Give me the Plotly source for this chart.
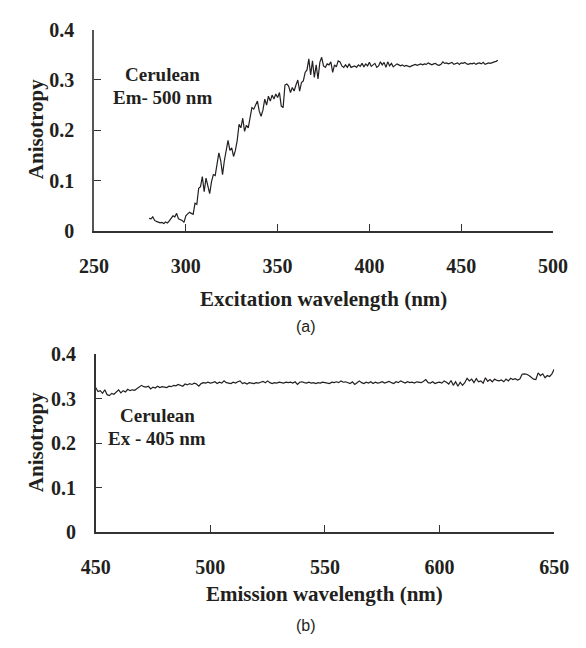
import plotly.graph_objects as go

# ---- data (a): excitation anisotropy, Em 500 nm ----
ex_start = 280
ex_aniso = [
    0.025, 0.024, 0.028, 0.021, 0.019, 0.018, 0.016, 0.017, 0.015, 0.018,
    0.016, 0.020, 0.024, 0.030, 0.028, 0.035, 0.024, 0.022, 0.021, 0.017,
    0.030, 0.034, 0.037, 0.035, 0.033, 0.055, 0.053, 0.085, 0.088, 0.108,
    0.078, 0.105, 0.090, 0.074, 0.098, 0.112, 0.110, 0.135, 0.155, 0.140,
    0.112, 0.140, 0.158, 0.180, 0.160, 0.165, 0.148, 0.160, 0.180, 0.212,
    0.205, 0.224, 0.198, 0.210, 0.205, 0.228, 0.245, 0.242, 0.250, 0.258,
    0.238, 0.228, 0.240, 0.262, 0.250, 0.268, 0.258, 0.270, 0.262, 0.272,
    0.265, 0.275, 0.248, 0.245, 0.290, 0.292, 0.288, 0.275, 0.285, 0.278,
    0.290, 0.300, 0.278, 0.295, 0.298, 0.315, 0.320, 0.342, 0.310, 0.338,
    0.305, 0.330, 0.302, 0.335, 0.345, 0.328, 0.325, 0.332, 0.330, 0.336,
    0.315, 0.330, 0.326, 0.338, 0.336, 0.328, 0.325, 0.330, 0.325, 0.332,
    0.325, 0.326, 0.328, 0.325, 0.330, 0.327, 0.333, 0.326, 0.332, 0.328,
    0.335, 0.327, 0.330, 0.333, 0.325, 0.328, 0.336, 0.330, 0.335, 0.325,
    0.336, 0.328, 0.333, 0.326, 0.329, 0.332, 0.330, 0.328, 0.330, 0.327,
    0.329, 0.327, 0.326, 0.328, 0.330, 0.331, 0.329, 0.330, 0.332, 0.330,
    0.332, 0.331, 0.334, 0.332, 0.330, 0.332, 0.333, 0.330, 0.329, 0.331,
    0.336, 0.333, 0.334, 0.332, 0.333, 0.335, 0.331, 0.332, 0.334, 0.331,
    0.334, 0.333, 0.335, 0.332, 0.331, 0.333, 0.332, 0.334, 0.331, 0.333,
    0.334, 0.332, 0.335, 0.331, 0.332, 0.334, 0.333, 0.335, 0.336, 0.337,
    0.339,
]
ex_wl = [ex_start + i for i in range(len(ex_aniso))]

# ---- data (b): emission anisotropy, Ex 405 nm ----
em_start = 450
em_aniso = [
    0.325, 0.316, 0.318, 0.312, 0.320, 0.309, 0.307, 0.312, 0.310, 0.316,
    0.320, 0.313, 0.318, 0.315, 0.321, 0.318, 0.320, 0.319, 0.322, 0.326, 0.330,
    0.327, 0.326, 0.328, 0.322, 0.326, 0.324, 0.328, 0.325, 0.327, 0.326,
    0.325, 0.328, 0.327, 0.330, 0.329, 0.332, 0.330, 0.328, 0.333, 0.331,
    0.334, 0.332, 0.335, 0.333, 0.328, 0.334, 0.336, 0.335, 0.337, 0.335,
    0.336, 0.338, 0.334, 0.337, 0.335, 0.340, 0.336, 0.335, 0.334, 0.337,
    0.335, 0.338, 0.340, 0.334, 0.336, 0.333, 0.336, 0.335, 0.334, 0.336,
    0.335, 0.337, 0.339, 0.336, 0.340, 0.336, 0.334, 0.336, 0.335, 0.337,
    0.336, 0.335, 0.337, 0.336, 0.337, 0.335, 0.338, 0.332, 0.337, 0.338,
    0.336, 0.335, 0.337, 0.335, 0.336, 0.334, 0.336, 0.335, 0.337, 0.336,
    0.335, 0.334, 0.337, 0.336, 0.338, 0.336, 0.340, 0.337, 0.338, 0.336,
    0.334, 0.338, 0.332, 0.336, 0.340, 0.336, 0.334, 0.337, 0.335, 0.338,
    0.334, 0.337, 0.335, 0.336, 0.338, 0.335, 0.337, 0.339, 0.336, 0.334,
    0.338, 0.336, 0.340, 0.337, 0.335, 0.338, 0.336, 0.337, 0.335, 0.338,
    0.337, 0.336, 0.339, 0.343, 0.336, 0.335, 0.338, 0.334, 0.336, 0.337,
    0.335, 0.340, 0.337, 0.333, 0.341, 0.330, 0.338, 0.328, 0.337, 0.330,
    0.336, 0.346, 0.340, 0.344, 0.336, 0.345, 0.338, 0.340, 0.335, 0.347,
    0.339, 0.343, 0.338, 0.344, 0.341, 0.340, 0.342, 0.338, 0.344, 0.340,
    0.346, 0.343, 0.345, 0.342, 0.344, 0.355, 0.356, 0.355, 0.352, 0.348,
    0.344, 0.343, 0.358, 0.352, 0.356, 0.347, 0.352, 0.350, 0.356, 0.366,
]
em_wl = [em_start + i for i in range(len(em_aniso))]

x1_ticks = [250, 300, 350, 400, 450, 500]
x2_ticks = [450, 500, 550, 600, 650]
y_ticks = [0, 0.1, 0.2, 0.3, 0.4]
y_labels = ["0", "0.1", "0.2", "0.3", "0.4"]

W, H = 586, 648
SERIF = "Liberation Serif"
INK = "#231f20"

fig = go.Figure()
fig.add_trace(go.Scatter(x=ex_wl, y=ex_aniso, mode="lines",
                         line=dict(color=INK, width=1.2), xaxis="x", yaxis="y",
                         showlegend=False))
fig.add_trace(go.Scatter(x=em_wl, y=em_aniso, mode="lines",
                         line=dict(color=INK, width=1.2), xaxis="x2", yaxis="y2",
                         showlegend=False))

tickfont = dict(family=SERIF, size=20, color=INK, weight="bold")

def px_x(p):
    return p / W

def px_y(p):
    return 1 - p / H

common_x = dict(showgrid=False, zeroline=False, showline=True, linecolor="#333",
                linewidth=1.5, ticks="inside", ticklen=7, tickcolor="#333",
                tickfont=tickfont, ticklabelstandoff=16)
common_y = dict(showgrid=False, zeroline=False, showline=True, linecolor="#555",
                linewidth=1.5, ticks="inside", ticklen=7, tickcolor="#333",
                tickfont=tickfont, tickvals=y_ticks, ticktext=y_labels,
                range=[0, 0.4], ticklabelstandoff=14)

fig.update_layout(
    width=W, height=H,
    margin=dict(l=0, r=0, t=0, b=0),
    paper_bgcolor="white", plot_bgcolor="white",
    xaxis=dict(common_x, domain=[px_x(83.3), px_x(567)], range=[250, 500],
               tickvals=x1_ticks, anchor="y"),
    yaxis=dict(common_y, domain=[px_y(227.7), px_y(19.3)], anchor="x"),
    xaxis2=dict(common_x, domain=[px_x(85), px_x(568.3)], range=[450, 650],
                tickvals=x2_ticks, anchor="y2"),
    yaxis2=dict(common_y, domain=[px_y(539.3), px_y(355.3)], anchor="x2",
                linecolor="#333"),
)

def ann(text, x, y, size, family=SERIF, bold=True, angle=0):
    f = dict(family=family, size=size, color=INK)
    if bold:
        f["weight"] = "bold"
    fig.add_annotation(text=text, x=px_x(x), y=px_y(y), xref="paper", yref="paper",
                       showarrow=False, xanchor="center", yanchor="middle",
                       font=f, textangle=angle)

# axis titles
ann("Excitation wavelength (nm)", 325, 298, 21)
ann("Emission wavelength (nm)", 326.5, 603, 21)
ann("Anisotropy", 22, 122.5, 21, angle=-90)
ann("Anisotropy", 22, 446.5, 21, angle=-90)
# in-plot labels
ann("Cerulean", 155, 66, 19)
ann("Em- 500 nm", 155, 90, 19)
ann("Cerulean", 150, 419, 19)
ann("Ex - 405 nm", 150, 443, 19)
# panel captions
ann("(a)", 307, 327, 16, family="Liberation Sans", bold=False)
ann("(b)", 307, 636, 16, family="Liberation Sans", bold=False)

fig.write_html("out.html")
